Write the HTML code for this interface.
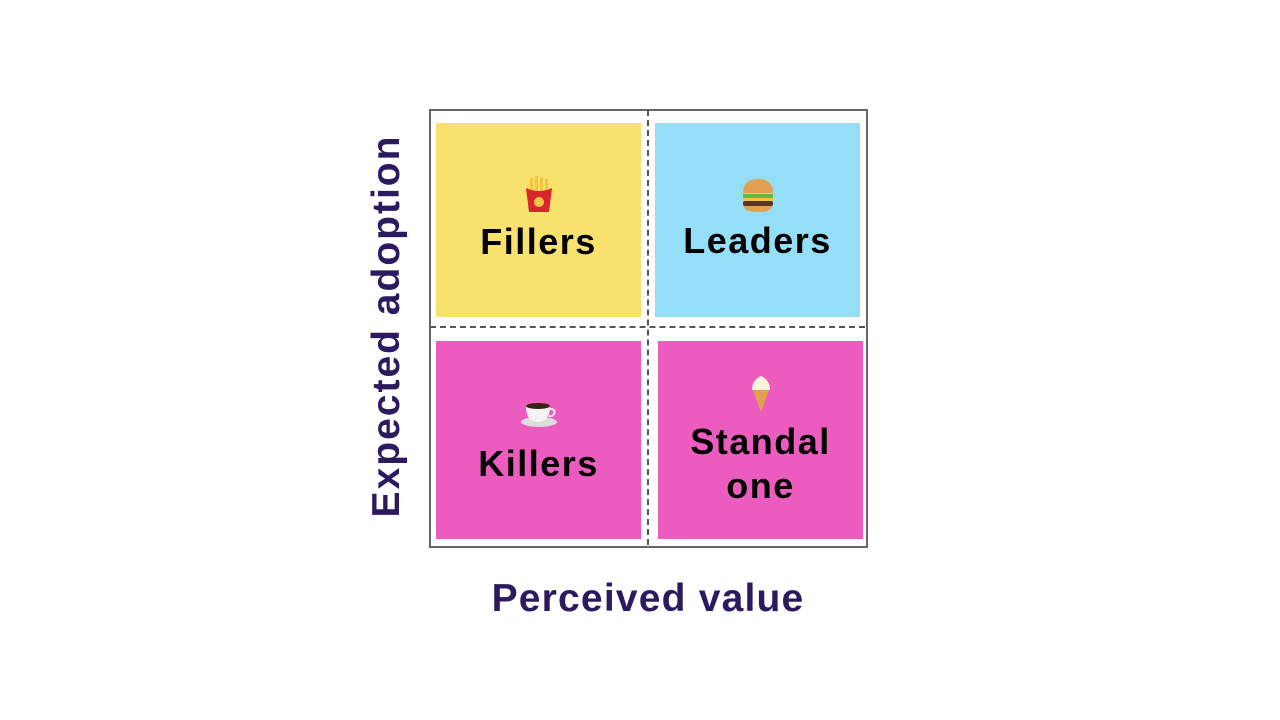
<!DOCTYPE html>
<html><head><meta charset="utf-8"><style>
body{margin:0;width:1280px;height:720px;background:#fff;position:relative;overflow:hidden;font-family:"Liberation Sans",sans-serif}
.a{position:absolute}
.q{position:absolute;display:flex;flex-direction:column;align-items:center;justify-content:center;font-weight:bold;font-size:36px;color:#000;text-align:center;line-height:44px;letter-spacing:1.5px}
.ax{position:absolute;font-weight:bold;font-size:39px;color:#2B1A5F;white-space:nowrap;letter-spacing:1.2px}
</style></head><body>
<div class="a" style="left:429px;top:109px;width:435px;height:435px;border:2px solid #666"></div>
<div class="a" style="left:647px;top:110px;height:435px;border-left:2px dashed #555"></div>
<div class="a" style="left:430px;top:326px;width:435px;border-top:2px dashed #555"></div>

<div class="q" style="left:436px;top:123px;width:205px;height:194px;background:#F8E16C">
<svg width="36" height="38" viewBox="0 0 36 38"><g fill="#F5C542"><rect x="9" y="2" width="3" height="16"/><rect x="14" y="0" width="3" height="18"/><rect x="19" y="1" width="3" height="17"/><rect x="24" y="3" width="3" height="15"/></g><path d="M5 12 Q18 18 31 12 L28 36 L8 36Z" fill="#D8262D"/><circle cx="18" cy="26" r="5" fill="#F5C542"/></svg>
<div style="margin-top:6px">Fillers</div></div>

<div class="q" style="left:655px;top:123px;width:205px;height:194px;background:#95DEF8">
<svg width="36" height="36" viewBox="0 0 36 36"><path d="M3 16 Q3 2 18 2 Q33 2 33 16Z" fill="#E0A050"/><rect x="3" y="17" width="30" height="4" fill="#6CB33F"/><rect x="3" y="21" width="30" height="3" fill="#F6C342"/><rect x="3" y="24" width="30" height="5" rx="2" fill="#5A3520"/><path d="M4 29 H32 Q32 35 18 35 Q4 35 4 29Z" fill="#E0A050"/></svg>
<div style="margin-top:6px">Leaders</div></div>

<div class="q" style="left:436px;top:341px;width:205px;height:198px;background:#EC5BBE">
<svg width="40" height="34" viewBox="0 0 40 34"><ellipse cx="20" cy="28" rx="18" ry="5" fill="#ddd"/><path d="M7 12 H31 Q31 28 19 28 Q7 28 7 12Z" fill="#f4f4f4"/><ellipse cx="19" cy="12" rx="12" ry="3" fill="#3b2314"/><path d="M31 15 Q37 15 35 20 Q33 23 30 22" stroke="#eee" stroke-width="2" fill="none"/></svg>
<div style="margin-top:14px">Killers</div></div>

<div class="q" style="left:658px;top:341px;width:205px;height:198px;background:#EC5BBE">
<svg width="26" height="40" viewBox="0 0 26 40"><path d="M4 18 Q4 8 13 4 Q22 8 22 18Z" fill="#FBF2DC"/><path d="M5 18 H21 L13 40Z" fill="#E0A050"/></svg>
<div style="margin-top:8px">Standal<br>one</div></div>

<div class="ax" style="left:398px;top:577px;width:500px;text-align:center">Perceived value</div>
<div class="ax" style="left:387px;top:326px;transform:translate(-50%,-50%) rotate(-90deg);letter-spacing:2px">Expected adoption</div>
</body></html>
